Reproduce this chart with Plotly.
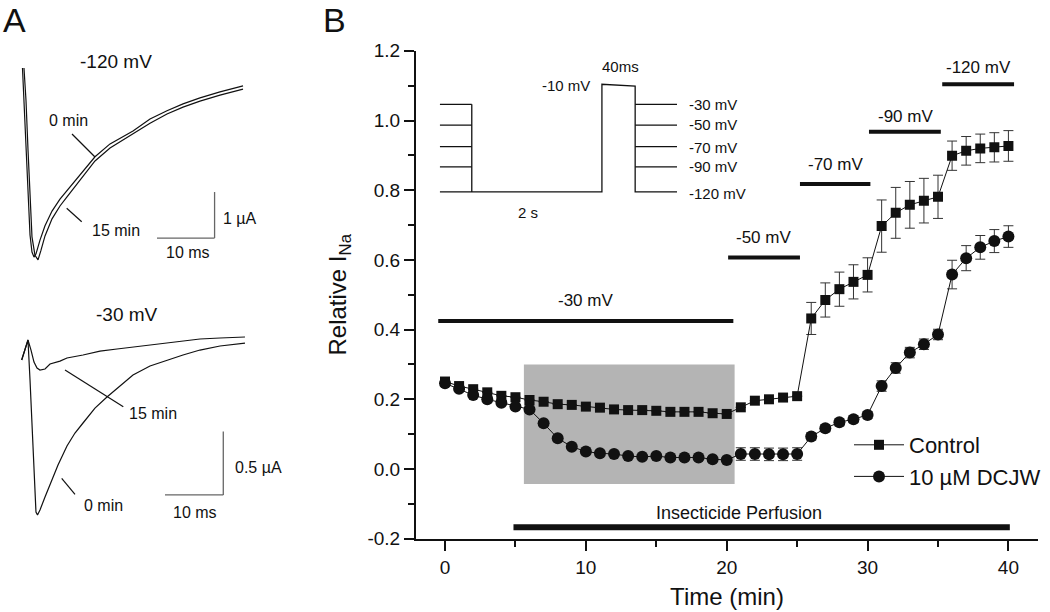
import plotly.graph_objects as go

W, H = 1050, 612

# ---------------- Panel B data ----------------
time_min = [0, 1, 2, 3, 4, 5, 6, 7, 8, 9, 10, 11, 12, 13, 14, 15, 16, 17, 18, 19, 20,
            21, 22, 23, 24, 25, 26, 27, 28, 29, 30, 31, 32, 33, 34, 35, 36, 37, 38, 39, 40]

control = [0.251, 0.238, 0.229, 0.220, 0.210, 0.206, 0.198, 0.193, 0.186, 0.184, 0.179,
           0.176, 0.171, 0.169, 0.169, 0.167, 0.164, 0.164, 0.164, 0.160, 0.158,
           0.177, 0.196, 0.200, 0.205, 0.209,
           0.432, 0.485, 0.516, 0.537, 0.557,
           0.697, 0.735, 0.758, 0.770, 0.781,
           0.899, 0.913, 0.920, 0.923, 0.927]
control_err = [0, 0, 0, 0, 0, 0, 0, 0, 0, 0, 0,
               0, 0, 0, 0, 0, 0, 0, 0, 0, 0,
               0, 0, 0, 0, 0,
               0.046, 0.049, 0.049, 0.049, 0.049,
               0.075, 0.073, 0.067, 0.064, 0.062,
               0.042, 0.041, 0.041, 0.042, 0.044]

dcjw = [0.246, 0.230, 0.212, 0.200, 0.190, 0.179, 0.171, 0.131, 0.088, 0.064, 0.050,
        0.045, 0.043, 0.037, 0.035, 0.037, 0.033, 0.033, 0.033, 0.028, 0.026,
        0.043, 0.043, 0.042, 0.042, 0.043,
        0.093, 0.117, 0.134, 0.143, 0.155,
        0.238, 0.290, 0.334, 0.358, 0.386,
        0.558, 0.605, 0.636, 0.654, 0.667]
dcjw_err = [0, 0, 0, 0, 0, 0, 0, 0, 0, 0, 0,
            0, 0, 0, 0, 0, 0, 0, 0, 0, 0,
            0.018, 0.018, 0.018, 0.018, 0.018,
            0.010, 0.010, 0.010, 0.010, 0.010,
            0.015, 0.015, 0.015, 0.015, 0.015,
            0.041, 0.036, 0.034, 0.033, 0.031]

y_ticks = [-0.2, 0.0, 0.2, 0.4, 0.6, 0.8, 1.0, 1.2]
y_ticktext = ["-0.2", "0.0", "0.2", "0.4", "0.6", "0.8", "1.0", "1.2"]
x_ticks = [0, 10, 20, 30, 40]

# voltage step bars
step_labels = ["-30 mV", "-50 mV", "-70 mV", "-90 mV", "-120 mV"]
step_start = [-0.48, 20.1, 25.2, 30.1, 35.3]
step_end = [20.47, 25.2, 30.2, 35.2, 40.4]
step_level = [0.425, 0.607, 0.818, 0.968, 1.104]

perfusion_start, perfusion_end, perfusion_level = 4.86, 40.1, -0.167
shade_x0, shade_x1, shade_y0, shade_y1 = 5.6, 20.56, -0.043, 0.300

# stimulus protocol inset (in panel-B data units)
proto_levels = [1.0465, 0.987, 0.925, 0.867, 0.795]
proto_labels = ["-30 mV", "-50 mV", "-70 mV", "-90 mV", "-120 mV"]
proto_x = [-0.36, 1.90, 11.14, 13.50, 16.47]
proto_pulse = 1.104

# ---------------- Panel A data (ms, µA) ----------------
t120_0 = [0.43, 0.69, 1.04, 1.39, 1.74, 2.08, 2.43, 2.78, 3.47, 4.34, 5.56, 6.94, 8.16,
          10.42, 13.02, 15.63, 19.62, 22.57, 25.52, 28.30, 31.25, 34.72, 38.72]
i120_0 = [0.00, -0.70, -1.78, -2.87, -3.63, -4.00, -4.11, -4.04, -3.74, -3.43, -3.11,
          -2.85, -2.67, -2.33, -1.93, -1.65, -1.37, -1.11, -0.93, -0.78, -0.65, -0.52, -0.39]
t120_15 = [0.69, 1.04, 1.39, 1.74, 2.08, 2.60, 3.13, 3.65, 4.34, 5.56, 6.94, 8.16,
           10.42, 13.02, 15.63, 19.62, 22.57, 25.52, 28.30, 31.25, 34.72, 38.72]
i120_15 = [0.00, -0.70, -1.78, -2.87, -3.67, -4.07, -4.17, -3.96, -3.65, -3.28, -3.00,
           -2.80, -2.43, -2.02, -1.74, -1.43, -1.20, -1.00, -0.85, -0.72, -0.59, -0.46]

t30_15 = [0.29, 0.69, 1.03, 1.37, 1.89, 2.40, 2.92, 3.43, 4.29, 5.15, 6.86, 8.06, 10.81,
          13.72, 16.64, 19.38, 22.30, 25.21, 27.96, 30.87, 34.31, 38.59]
i30_15 = [-0.158, -0.095, -0.039, 0.000, -0.079, -0.174, -0.221, -0.237, -0.229, -0.189,
          -0.166, -0.142, -0.118, -0.087, -0.071, -0.055, -0.039, -0.024, -0.008, 0.008,
          0.016, 0.024]
t30_0 = [0.29, 0.69, 1.03, 1.37, 1.72, 2.06, 2.40, 2.74, 3.00, 3.43, 4.29, 5.15, 6.52,
         8.06, 9.43, 10.81, 12.86, 14.92, 17.15, 19.38, 22.30, 25.21, 27.96, 30.87, 34.31, 38.59]
i30_0 = [-0.158, -0.095, -0.039, 0.000, -0.316, -0.710, -1.105, -1.358, -1.381, -1.342,
         -1.239, -1.144, -0.987, -0.837, -0.734, -0.655, -0.537, -0.450, -0.363, -0.276,
         -0.205, -0.158, -0.118, -0.079, -0.047, -0.024]


def PX(x):
    return x / W


def PY(y):
    return 1 - y / H


FONT = "Liberation Sans, Arial, Helvetica, sans-serif"
INK = "#111111"

fig = go.Figure()

# Panel B traces
fig.add_trace(go.Scatter(
    x=time_min, y=control, name="Control", mode="lines+markers",
    line=dict(color=INK, width=1),
    marker=dict(symbol="square", size=10, color=INK),
    error_y=dict(type="data", array=control_err, visible=True, thickness=1, width=5, color="#333333"),
    xaxis="x", yaxis="y"))
fig.add_trace(go.Scatter(
    x=time_min, y=dcjw, name="10 µM DCJW", mode="lines+markers",
    line=dict(color=INK, width=1),
    marker=dict(symbol="circle", size=12, color=INK),
    error_y=dict(type="data", array=dcjw_err, visible=True, thickness=1, width=5, color="#333333"),
    xaxis="x", yaxis="y"))

# Panel A traces
for tx, iy in [(t120_0, i120_0), (t120_15, i120_15)]:
    fig.add_trace(go.Scatter(x=tx, y=iy, mode="lines", line=dict(color=INK, width=1.2),
                             showlegend=False, xaxis="x2", yaxis="y2", hoverinfo="skip"))
for tx, iy in [(t30_0, i30_0), (t30_15, i30_15)]:
    fig.add_trace(go.Scatter(x=tx, y=iy, mode="lines", line=dict(color=INK, width=1.2),
                             showlegend=False, xaxis="x3", yaxis="y3", hoverinfo="skip"))

shapes = []
shapes.append(dict(type="rect", xref="x", yref="y", x0=shade_x0, x1=shade_x1, y0=shade_y0, y1=shade_y1,
                   fillcolor="rgb(180,180,180)", line=dict(width=0), layer="below"))
for s, e, lv in zip(step_start, step_end, step_level):
    shapes.append(dict(type="line", xref="x", yref="y", x0=s, x1=e, y0=lv, y1=lv,
                       line=dict(color=INK, width=4)))
shapes.append(dict(type="line", xref="x", yref="y", x0=perfusion_start, x1=perfusion_end,
                   y0=perfusion_level, y1=perfusion_level, line=dict(color=INK, width=6)))

# protocol inset
pl = dict(color=INK, width=1.3)
x_l0, x_l1, x_p0, x_p1, x_r1 = proto_x
for lv in proto_levels[:-1]:
    shapes.append(dict(type="line", xref="x", yref="y", x0=x_l0, x1=x_l1, y0=lv, y1=lv, line=pl))
    shapes.append(dict(type="line", xref="x", yref="y", x0=x_p1, x1=x_r1, y0=lv, y1=lv, line=pl))
base = proto_levels[-1]
shapes.append(dict(type="line", xref="x", yref="y", x0=x_l1, x1=x_l1, y0=base, y1=proto_levels[0], line=pl))
shapes.append(dict(type="path", xref="x", yref="y",
                   path=f"M {x_l0},{base} L {x_p0},{base} L {x_p0},{proto_pulse} L {x_p1},{proto_pulse - 0.005} "
                        f"L {x_p1},{base} L {x_r1},{base}", line=pl))

# panel A scale bars
sb = dict(color="#666666", width=1.3)
shapes.append(dict(type="line", xref="x2", yref="y2", x0=23.78, x1=33.78, y0=-3.696, y1=-3.696, line=sb))
shapes.append(dict(type="line", xref="x2", yref="y2", x0=33.78, x1=33.78, y0=-3.696, y1=-2.696, line=sb))
shapes.append(dict(type="line", xref="x3", yref="y3", x0=24.87, x1=34.87, y0=-1.223, y1=-1.223, line=sb))
shapes.append(dict(type="line", xref="x3", yref="y3", x0=34.87, x1=34.87, y0=-1.223, y1=-0.723, line=sb))

# pointer lines in panel A
for (x0, y0, x1, y1) in [(72, 134, 95, 157), (81.7, 221.7, 66.7, 208.3),
                         (65, 370, 123.3, 406.7), (61.7, 478.3, 75, 494.3)]:
    shapes.append(dict(type="line", xref="paper", yref="paper", x0=PX(x0), x1=PX(x1), y0=PY(y0), y1=PY(y1),
                       line=dict(color=INK, width=1.2)))

ann = []


def txt(text, x, y, size, xanchor="center"):
    ann.append(dict(text=text, x=PX(x), y=PY(y), xref="paper", yref="paper", showarrow=False,
                    xanchor=xanchor, yanchor="middle", font=dict(size=size, color=INK, family=FONT)))


txt("A", 14, 20, 34)
txt("B", 334, 20, 34)
txt("-120 mV", 116, 62, 19)
txt("0 min", 68, 121, 16)
txt("15 min", 116, 230, 16)
txt("1 µA", 240, 218, 16)
txt("10 ms", 188, 253, 16)
txt("-30 mV", 127, 315, 19)
txt("15 min", 153, 413, 16)
txt("0.5 µA", 258, 468, 16)
txt("0 min", 103, 505, 16)
txt("10 ms", 195, 512, 16)

txt("-10 mV", 592, 86, 15, "right")
txt("40ms", 620, 66, 15)
txt("2 s", 528, 212, 15)
for lab, yy in zip(proto_labels, [104, 125, 147, 167, 193]):
    txt(lab, 687, yy, 15, "left")

for lab, (xx, yy) in zip(step_labels, [(585, 300), (763, 238), (835, 165), (905, 117), (978, 67)]):
    txt(lab, xx, yy, 17)
txt("Insecticide Perfusion", 739, 513, 18)

axis_common = dict(showgrid=False, zeroline=False, showline=True, linecolor=INK, linewidth=2,
                   ticks="outside", ticklen=10, tickwidth=2, tickcolor=INK, automargin=False,
                   tickfont=dict(size=19, color=INK, family=FONT))

fig.update_layout(
    width=W, height=H, margin=dict(l=0, r=0, t=0, b=0, autoexpand=False),
    paper_bgcolor="white", plot_bgcolor="white",
    font=dict(family=FONT, color=INK),
    showlegend=True,
    legend=dict(x=PX(849), y=PY(424), xanchor="left", yanchor="top", bgcolor="rgba(0,0,0,0)",
                font=dict(size=22, color=INK, family=FONT), itemwidth=50, tracegroupgap=0),
    xaxis=dict(domain=[416 / W, 1038 / W], range=[-2.06, 42.1], anchor="y",
               tickvals=x_ticks,
               minor=dict(ticks="outside", ticklen=6, tickwidth=2, tickcolor=INK, dtick=5, tick0=0),
               title=dict(text="Time (min)", font=dict(size=24, color=INK, family=FONT), standoff=12),
               **axis_common),
    yaxis=dict(domain=[1 - 538.7 / H, 1 - 50.8 / H], range=[-0.2, 1.2], anchor="x",
               tickvals=y_ticks, ticktext=y_ticktext,
               minor=dict(ticks="outside", ticklen=6, tickwidth=2, tickcolor=INK, dtick=0.1, tick0=0),
               title=dict(text="Relative I<sub>Na</sub>", font=dict(size=24, color=INK, family=FONT), standoff=14),
               **axis_common),
    xaxis2=dict(domain=[0, 300 / W], range=[-3.472, 48.61], visible=False, anchor="y2"),
    yaxis2=dict(domain=[1 - 300 / H, 1], range=[-5.043, 1.478], visible=False, anchor="x2"),
    xaxis3=dict(domain=[0, 300 / W], range=[-3.43, 48.03], visible=False, anchor="y3"),
    yaxis3=dict(domain=[0, 1 - 300 / H], range=[-2.147, 0.316], visible=False, anchor="x3"),
    shapes=shapes, annotations=ann,
)

fig.write_html("out.html", config={"displayModeBar": False},
               post_script="document.body.style.margin='0px';document.body.style.overflow='hidden';")
